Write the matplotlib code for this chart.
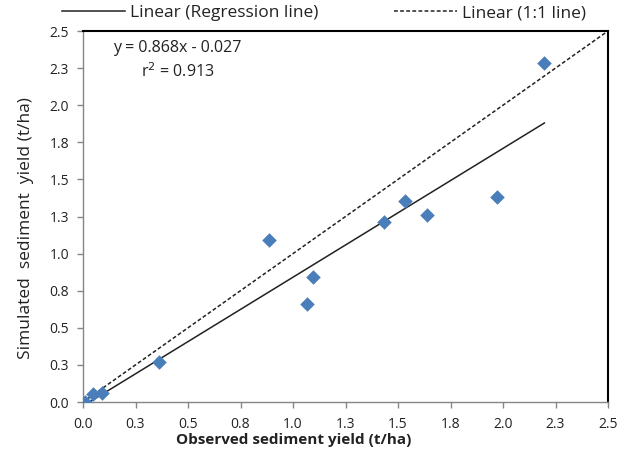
import matplotlib
matplotlib.use("Agg")
import matplotlib.pyplot as plt
from matplotlib.lines import Line2D
from matplotlib.ticker import FixedLocator, FixedFormatter
import numpy as np

# Data
observed = [0.01, 0.046, 0.089, 0.363, 0.887, 1.065, 1.097, 1.435, 1.533, 1.640, 1.973, 2.197]
simulated = [0.00, 0.052, 0.063, 0.272, 1.092, 0.660, 0.844, 1.215, 1.354, 1.260, 1.383, 2.282]
slope = 0.868
intercept = -0.027
r2 = 0.913
tick_values = [0, 0.25, 0.5, 0.75, 1.0, 1.25, 1.5, 1.75, 2.0, 2.25, 2.5]
tick_labels = ["0.0", "0.3", "0.5", "0.8", "1.0", "1.3", "1.5", "1.8", "2.0", "2.3", "2.5"]

plt.rcParams['font.family'] = ['Open Sans', 'DejaVu Sans']

fig = plt.figure(figsize=(6.27, 4.69), dpi=100)
ax = fig.add_axes([83/627, 1-402/469, (608-83)/627, (402-31)/469])

ax.scatter(observed, simulated, marker='D', s=55, color='#4A7EBB', zorder=3, linewidths=0)

xr = np.array([0.0, max(observed)])
ax.plot(xr, slope*xr + intercept, color='#222222', lw=1.1, zorder=2)
ax.plot([0, 2.5], [0, 2.5], color='#222222', lw=1.1, ls=(0, (2.5, 1.5)), zorder=2)

ax.set_xlim(0, 2.5)
ax.set_ylim(0, 2.5)
for axis in (ax.xaxis, ax.yaxis):
    axis.set_major_locator(FixedLocator(tick_values))
    axis.set_major_formatter(FixedFormatter(tick_labels))
ax.tick_params(direction='out', length=4, width=1, color='#868686', labelsize=10, labelcolor='#222222', pad=6)
ax.tick_params(axis='x', pad=7)

for s in ('left', 'bottom'):
    ax.spines[s].set_color('#868686')
    ax.spines[s].set_linewidth(1.0)
for s in ('top', 'right'):
    ax.spines[s].set_color('black')
    ax.spines[s].set_linewidth(1.5)

ax.set_xlabel("Observed sediment yield (t/ha)", fontsize=11, fontweight='bold', color='#222222')
ax.xaxis.set_label_coords((294-83)/525, -(433-402)/371)
ax.set_ylabel("Simulated  sediment  yield (t/ha)", fontsize=12.5, color='#222222')
ax.yaxis.set_label_coords(-(83-34)/525, (402-228)/371)

ax.text((177-83)/210, (402-48)/148.4, f"y = {slope:.3f}x - {abs(intercept):.3f}",
        ha='center', va='center', fontsize=11.5, color='#222222')
ax.text((178-83)/210, (402-72)/148.4, f"r$^2$ = {r2:.3f}",
        ha='center', va='center', fontsize=11.5, color='#222222')

handles = [Line2D([], [], color='#222222', lw=1.1),
           Line2D([], [], color='#222222', lw=1.1, ls=(0, (2.5, 1.5)))]
fig.legend(handles, ["Linear (Regression line)", "Linear (1:1 line)"], ncol=2,
           loc='center left', bbox_to_anchor=(62/627, 1-13/469), frameon=False,
           borderpad=0, borderaxespad=0,
           fontsize=12.5, handlelength=3.6, handletextpad=0.3, columnspacing=4.4,
           labelcolor='#222222')

fig.savefig("out.png", dpi=100)
